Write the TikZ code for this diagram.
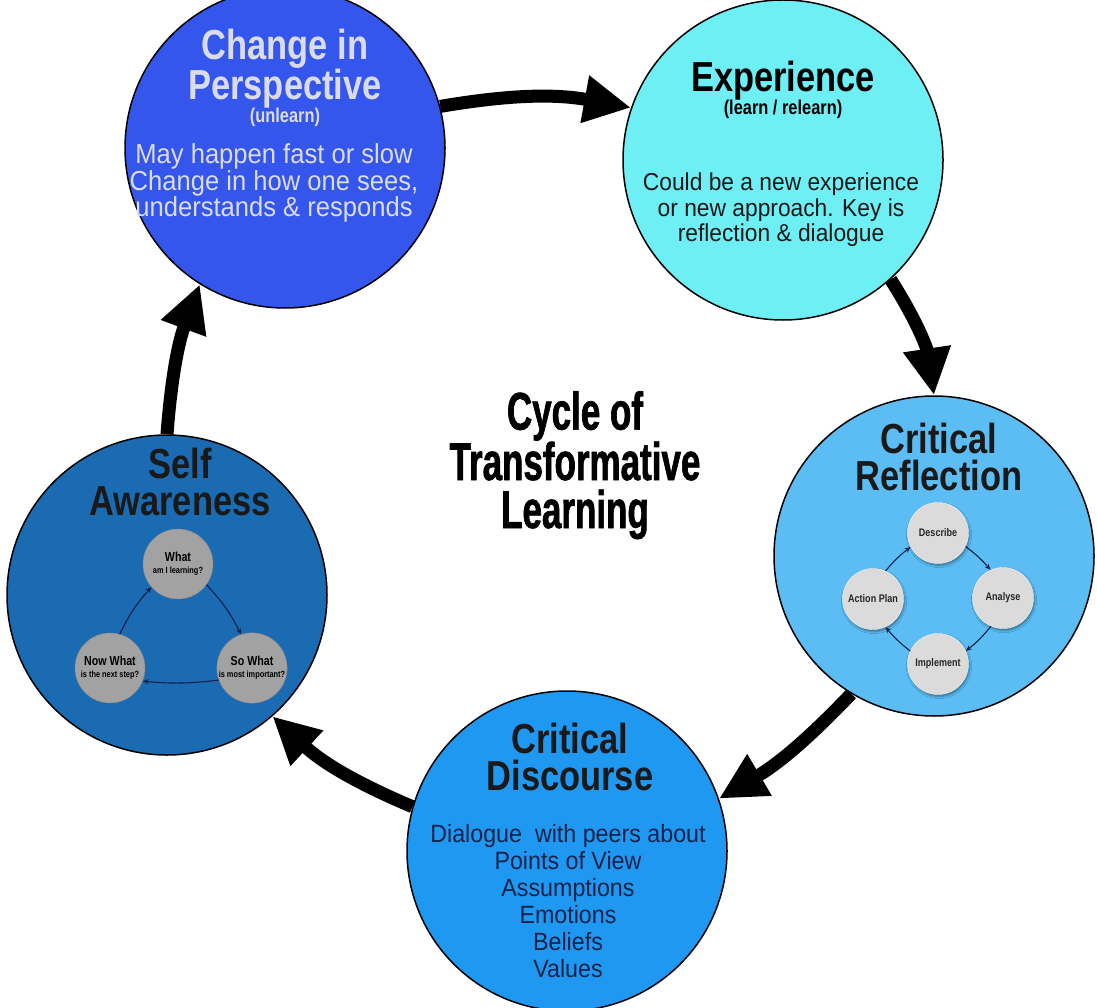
\documentclass[tikz,border=0pt]{standalone}
\usepackage{fontspec}
\setmainfont{Liberation Sans}
\newfontfamily\headfont[FakeStretch=0.82]{Liberation Sans}
\newfontfamily\bodyfont[FakeStretch=0.93]{Liberation Sans}
\newfontfamily\heavyfont[FakeStretch=0.66, FakeBold=1.2]{Liberation Sans}
\definecolor{perspBlue}{HTML}{3556EC}
\definecolor{experCyan}{HTML}{6DEFF4}
\definecolor{reflBlue}{HTML}{5BBDF3}
\definecolor{discBlue}{HTML}{1E98F0}
\definecolor{selfBlue}{HTML}{1A6BB2}
\definecolor{greyDark}{HTML}{A2A2A2}
\definecolor{greyLight}{HTML}{DBDBDB}
\definecolor{textLight}{HTML}{DADCEB}
\definecolor{textNavy}{HTML}{13224A}
\usetikzlibrary{
  positioning,
  arrows.meta,
  shadows.blur
}

\begin{document}
\begin{tikzpicture}[
    x = 1pt, y = -1pt,
    % Big stages.
    stage/.style = {
      circle,
      draw = black,
      line width = 1.5pt,
      minimum size = 320pt,
      inner sep = 0pt
    },
    % Texts (base = last line).
    stagetitle/.style = {
      font = \headfont\bfseries\fontsize{42}{37}\selectfont,
      align = center,
      anchor = base
    },
    stagesub/.style = {
      font = \headfont\bfseries\fontsize{20}{20}\selectfont,
      anchor = base
    },
    stagebody/.style = {
      font = \bodyfont\fontsize{24.5}{25.5}\selectfont,
      align = center,
      anchor = base
    },
    % Small steps.
    selfstep/.style = {
      circle,
      minimum size = 70pt,
      inner sep = 0pt,
      fill = greyDark,
      draw = greyDark!85!black,
      text = black,
      align = center,
      font = \headfont\bfseries\fontsize{13}{12}\selectfont
    },
    reflstep/.style = {
      circle,
      minimum size = 61pt,
      inner sep = 0pt,
      fill = greyLight,
      draw = white!70!greyLight,
      text = black!85,
      blur shadow = {shadow xshift = 1pt, shadow yshift = -2pt},
      font = \headfont\bfseries\fontsize{11}{12}\selectfont
    },
    % Connectors.
    flow/.style = {
      line width = 13pt,
      -{Triangle[length = 47pt, width = 45pt]}
    },
    minor/.style = {
      line width = 1.1pt,
      draw = textNavy,
      -{Stealth[length = 6pt, width = 5pt]}
    }
  ]

  \useasboundingbox[fill = white] (0,0) rectangle (1097,1008);

  % Stages.
  \node[stage, fill = perspBlue] (persp) at (285,148) {};
  \node[stage, fill = experCyan] (exper) at (783,160) {};
  \node[stage, fill = reflBlue] (refl) at (934,556) {};
  \node[stage, fill = discBlue] (disc) at (567,851) {};
  \node[stage, fill = selfBlue] (self) at (167,595) {};

  % Change in perspective.
  \node[stagetitle, text = textLight] (perspTitle) at (285,100) {Change in\\Perspective};
  \node[stagesub, text = textLight] (perspSub) at (285,123) {(unlearn)};
  \node[stagebody, text = textLight, font = \bodyfont\fontsize{27.5}{25}\selectfont]
    (perspBody) at (274,217) {May happen fast or slow\\Change in how one sees,\\understands \& responds};

  % Experience.
  \node[stagetitle] (experTitle) at (783,92) {Experience};
  \node[stagesub] (experSub) at (783,115) {(learn / relearn)};
  \node[stagebody, text = black!90] (experBody) at (781,242)
    {Could be a new experience\\or new approach. Key is\\reflection \& dialogue};

  % Critical reflection.
  \node[stagetitle, text = black!90] (reflTitle) at (939,490) {Critical\\Reflection};
  \node[reflstep] (describe) at (938,533) {Describe};
  \node[reflstep] (analyse) at (1003,598) {Analyse};
  \node[reflstep] (implement) at (938,664) {Implement};
  \node[reflstep] (action) at (873,599) {Action Plan};

  % Critical discourse.
  \node[stagetitle, text = black!90] (discTitle) at (570,790) {Critical\\Discourse};
  \node[stagebody, text = textNavy, font = \bodyfont\fontsize{25}{27}\selectfont]
    (discBody) at (568,977) {Dialogue\ \ with peers about\\Points of View\\Assumptions\\Emotions\\Beliefs\\Values};

  % Self awareness.
  \node[stagetitle, text = black!90] (selfTitle) at (180,515) {Self\\Awareness};
  \node[selfstep] (what) at (178,564) {What\\{\fontsize{9}{9}\selectfont am I learning?}};
  \node[selfstep] (sowhat) at (252,668) {So What\\{\fontsize{9}{9}\selectfont is most important?}};
  \node[selfstep] (nowwhat) at (110,668) {Now What\\{\fontsize{9}{9}\selectfont is the next step?}};

  % Centre.
  \node[font = \heavyfont\bfseries\fontsize{53}{48}\selectfont, align = center, anchor = base]
    (cycle) at (575,528) {Cycle of\\Transformative\\Learning};

  % Cycle.
  \draw[flow] (persp.15) to[bend left = 10] (exper.161);
  \draw[flow] (exper.-48) to[bend left = 12] (refl.90);
  \draw[flow] (refl.239) to[bend left = 8] (disc.19);
  \draw[flow] (disc.164) to[bend left = 10] (self.311);
  \draw[flow] (self.90) to[bend left = 8] (persp.238);

  % Inner cycles.
  \draw[minor] (what.-36) to[bend left = 8] (sowhat.108);
  \draw[minor] (sowhat.200) to[bend left = 6] (nowwhat.-22);
  \draw[minor] (nowwhat.74) to[bend left = 8] (what.221);
  \draw[minor] (describe.-26) to[bend left = 6] (analyse.114);
  \draw[minor] (analyse.247) to[bend left = 6] (implement.25);
  \draw[minor] (implement.155) to[bend left = 6] (action.294);
  \draw[minor] (action.66) to[bend left = 6] (describe.207);
\end{tikzpicture}
\end{document}
